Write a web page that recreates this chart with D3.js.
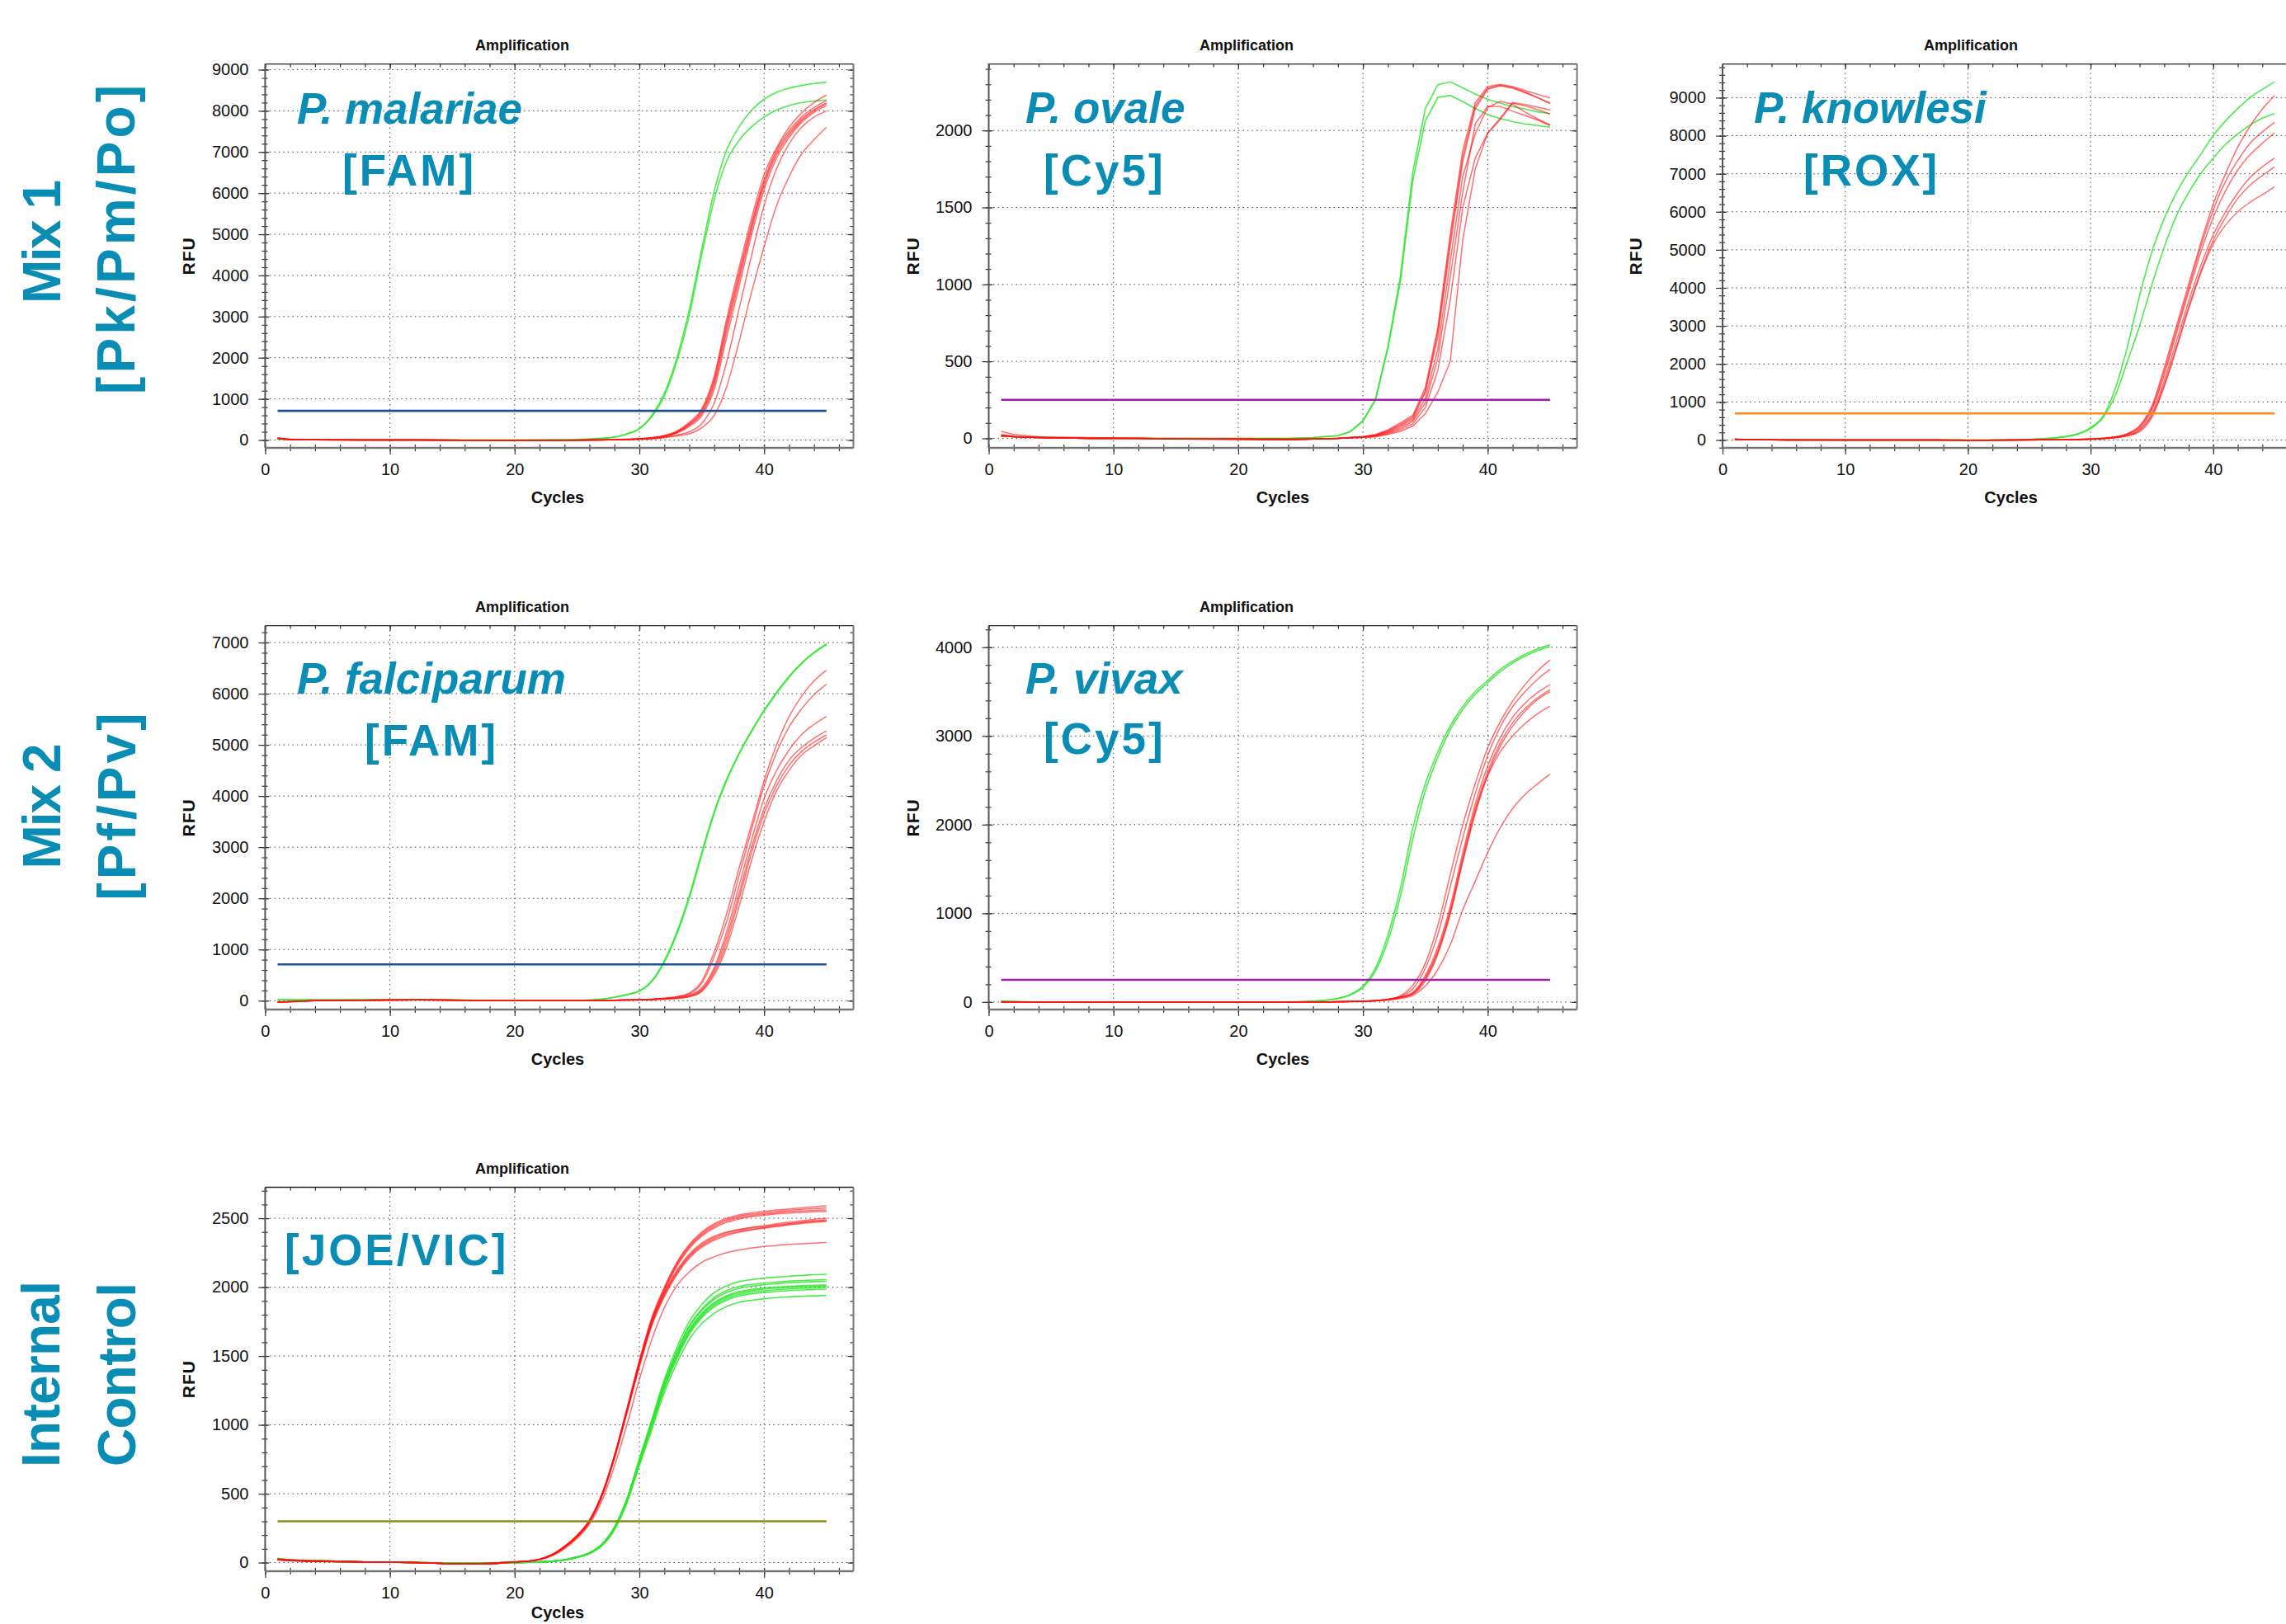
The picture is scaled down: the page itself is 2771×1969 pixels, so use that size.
<!DOCTYPE html>
<html>
<head>
<meta charset="utf-8">
<script src="https://cdn.jsdelivr.net/npm/d3@7"></script>
<style>
  html, body { margin: 0; padding: 0; background: #fff; }
  svg { display: block; }
</style>
</head>
<body>
<script>
// ---------------- DATA ----------------
const cyclesMain = [1,2,4,8,12,16,20,24,26,28,29,30,31,32,33,34,35,36,37,38,39,40,41,42,43,44,45];
const cyclesIC   = [1,2,4,8,12,16,18,20,21,22,23,24,25,26,27,28,29,30,31,32,33,34,35,36,37,38,39,40,41,42,43,44,45];
const xTickLabels = [0,10,20,30,40];

// Mix 1 – P. malariae [FAM]
const malariaeGreen = [
  [20,15,10,5,5,0,0,10,25, 70,150,280,600,1135,2000,3170,4640,6045,7050,7615,8016,8283,8450,8550,8617,8664,8697],
  [20,15,10,5,5,0,0,10,25, 70,145,267,568,1069,1904,3040,4509,5845,6780,7281,7615,7849,8016,8130,8197,8237,8263]
];
const malariaeRed = [
  [50,20,10,0,0,-5,-10,-5,0, 10,20,35,60,110,220,430,760,1560,2950,4200,5400,6450,7100,7600,7950,8200,8383],
  [40,15,5,0,0,-5,-5,-5,0, 10,20,30,55,100,200,400,720,1480,2850,4080,5280,6330,7050,7520,7850,8080,8250],
  [45,15,5,0,0,-5,-5,-5,0, 8,15,28,50,95,190,380,680,1420,2760,3980,5200,6260,6990,7460,7800,8030,8196],
  [35,10,5,0,0,-5,-5,-5,0, 8,15,25,45,90,180,360,640,1340,2650,3880,5120,6190,6930,7410,7760,8000,8170],
  [40,12,5,0,0,-5,-5,-5,0, 8,15,25,45,85,170,330,590,1240,2500,3740,4990,6080,6850,7350,7720,7960,8130],
  [45,15,5,0,0,-5,-5,-5,0, 5,10,20,35,65,120,200,400,900,1900,3200,4500,5700,6600,7200,7600,7850,7996],
  [50,15,5,0,0,-5,-5,-5,0, 5,10,18,30,55,100,150,300,600,1300,2400,3600,4700,5700,6400,6950,7300,7602]
];
const malariaeYTicks = [0,1000,2000,3000,4000,5000,6000,7000,8000,9000];

// Mix 1 – P. ovale [Cy5]
const ovaleGreen = [
  [15,10,5,0,0,0,0,0,5, 17,44,115,253,597,1053,1732,2143,2298,2316,2277,2237,2202,2178,2155,2139,2121,2110],
  [15,10,5,0,0,0,0,0,5, 17,44,112,248,585,1018,1678,2062,2214,2228,2187,2143,2103,2077,2057,2043,2032,2021]
];
const ovaleRed = [
  [45,25,10,5,0,-5,-5,-5,-5, 0,5,10,25,55,100,150,330,720,1330,1870,2180,2285,2300,2285,2260,2235,2211],
  [20,10,5,0,0,-5,-5,-5,-5, 0,5,10,20,50,90,140,310,690,1290,1830,2160,2275,2295,2280,2250,2215,2178],
  [15,10,5,0,0,-5,-5,-10,-5, 0,5,10,20,45,85,130,300,660,1250,1800,2140,2268,2290,2275,2245,2212,2175],
  [25,15,5,0,0,-5,-10,-10,-5, 0,5,8,18,40,75,120,260,580,1150,1700,1980,2150,2190,2170,2120,2075,2036],
  [20,10,5,0,0,-5,-5,-10,-5, 0,3,8,15,35,65,110,230,520,1050,1600,2044,2157,2157,2125,2098,2068,2032],
  [15,10,5,0,0,-5,-5,-10,-5, 0,3,6,12,30,55,95,200,440,900,1500,1821,1982,2080,2182,2169,2151,2134],
  [20,10,5,0,0,-5,-5,-10,-5, 0,3,5,10,25,45,80,160,300,500,1290,1750,1982,2071,2178,2160,2135,2107]
];
const ovaleYTicks = [0,500,1000,1500,2000];

// Mix 1 – P. knowlesi [ROX]
const knowlesiGreen = [
  [20,15,10,5,0,0,0,5,30, 98,170,329,618,1341,2450,3800,4950,5820,6500,7050,7520,8005,8388,8713,9002,9219,9414],
  [20,15,10,5,0,0,0,5,30, 90,160,300,582,1160,2063,3003,4087,5063,5894,6508,7014,7412,7773,8048,8280,8460,8583]
];
const knowlesiRed = [
  [20,10,5,0,0,0,-5,0,5, 10,18,30,50,85,170,380,900,1900,3000,4100,5200,6200,7000,7700,8250,8700,9060],
  [20,10,5,0,0,0,-5,0,5, 10,16,28,45,80,160,350,850,1800,2900,4000,5100,6050,6800,7350,7800,8100,8352],
  [20,10,5,0,0,0,-5,0,5, 10,15,26,42,75,150,320,800,1700,2800,3900,4950,5850,6550,7100,7500,7800,8077],
  [20,10,5,0,0,0,-5,0,5, 8,14,24,40,68,130,280,700,1550,2600,3650,4600,5400,6000,6500,6900,7180,7412],
  [20,10,5,0,0,0,-5,0,5, 8,13,22,37,62,120,250,650,1450,2450,3500,4450,5250,5850,6350,6700,6950,7181],
  [20,10,5,0,0,0,-5,0,5, 8,12,20,34,58,110,220,600,1400,2400,3450,4400,5150,5650,6000,6250,6450,6653]
];
const knowlesiYTicks = [0,1000,2000,3000,4000,5000,6000,7000,8000,9000];

// Mix 2 – P. falciparum [FAM]
const falciparumGreen = [
  [20,15,15,20,20,10,0,0,10, 70,120,195,390,780,1340,2050,2900,3700,4330,4840,5280,5680,6030,6340,6600,6810,6974],
  [25,15,15,20,20,10,0,0,10, 65,115,185,370,750,1300,2000,2850,3660,4300,4820,5260,5660,6010,6320,6585,6795,6960]
];
const falciparumRed = [
  [-30,-20,0,10,15,10,0,0,0, 10,15,20,30,50,80,150,380,950,1700,2600,3450,4300,5000,5550,5950,6250,6459],
  [-30,-20,0,10,15,10,0,0,0, 10,15,20,28,45,75,130,340,860,1550,2450,3350,4200,4850,5350,5700,5980,6183],
  [-25,-20,0,10,15,10,0,0,0, 10,15,18,25,40,60,110,250,650,1350,2250,3150,3950,4500,4900,5200,5400,5557],
  [-30,-15,0,10,15,10,0,0,0, 8,12,18,25,40,55,95,220,600,1250,2100,3000,3750,4300,4700,4950,5130,5274],
  [-30,-20,0,10,15,10,0,0,0, 8,12,15,22,35,50,85,200,550,1150,2000,2900,3650,4200,4600,4870,5050,5195],
  [-25,-20,0,10,15,10,0,0,0, 8,12,15,20,30,45,75,180,500,1050,1850,2750,3500,4100,4500,4800,4980,5142]
];
const falciparumYTicks = [0,1000,2000,3000,4000,5000,6000,7000];

// Mix 2 – P. vivax [Cy5]
const vivaxGreen = [
  [15,5,0,0,0,0,0,0,10, 41,87,180,382,755,1282,1964,2461,2818,3113,3330,3500,3625,3749,3842,3920,3982,4028],
  [10,5,0,0,0,0,0,0,10, 38,80,165,350,690,1190,1840,2380,2760,3070,3295,3470,3600,3725,3822,3900,3962,4006]
];
const vivaxRed = [
  [0,0,0,0,0,0,0,0,0, 3,5,10,16,32,70,190,437,863,1437,1996,2461,2865,3160,3392,3578,3733,3857],
  [0,0,0,0,0,0,0,0,0, 3,5,10,16,30,62,150,380,760,1300,1850,2350,2780,3100,3330,3500,3640,3749],
  [0,0,0,0,0,0,0,0,0, 3,5,10,15,28,56,110,300,620,1080,1680,2230,2660,2980,3210,3370,3490,3578],
  [0,0,0,0,0,0,0,0,0, 3,5,10,15,28,54,100,280,580,1040,1630,2180,2600,2920,3150,3310,3430,3522],
  [0,0,0,0,0,0,0,0,0, 3,5,9,14,26,50,95,260,560,1010,1600,2150,2550,2820,3000,3140,3250,3336],
  [0,0,0,0,0,0,0,0,0, 3,5,9,14,26,48,90,240,540,990,1580,2120,2560,2880,3110,3280,3410,3500],
  [0,0,0,0,0,0,0,0,0, 3,4,8,12,22,40,75,180,366,645,1040,1360,1685,1964,2182,2340,2460,2569]
];
const vivaxYTicks = [0,1000,2000,3000,4000];

// Internal control [JOE/VIC]
const icGreen = [
  [30,20,15,5,0,-5,-5, 0,2,5,10,20,40,72,135,260,465,755,1040,1330,1560,1750,1875,1960,2010,2040,2055,2065,2073,2080,2085,2090,2093],
  [30,20,15,5,0,-5,-5, 0,2,5,10,20,40,70,132,255,458,745,1025,1310,1535,1720,1840,1925,1975,2005,2020,2030,2038,2044,2048,2051,2054],
  [25,20,15,5,0,-5,-5, 0,2,5,10,20,40,70,130,252,455,740,1018,1300,1525,1710,1830,1912,1962,1992,2007,2017,2026,2032,2037,2040,2042],
  [25,20,10,5,0,-5,-5, 0,2,5,10,20,40,70,130,250,450,733,1005,1287,1508,1690,1808,1888,1938,1968,1983,1993,2001,2006,2010,2013,2015],
  [30,20,10,5,0,-5,-5, 0,2,5,10,20,40,70,130,250,450,730,1000,1280,1500,1680,1800,1880,1930,1960,1975,1985,1993,1998,2002,2005,2008],
  [25,20,10,5,0,-5,-5, 0,2,5,10,20,38,68,128,246,445,725,995,1272,1490,1670,1790,1868,1918,1948,1963,1973,1981,1987,1991,1994,1997],
  [25,15,10,5,0,-5,-5, 0,2,5,10,19,38,67,126,244,442,720,988,1265,1482,1660,1778,1856,1906,1936,1951,1961,1969,1975,1979,1982,1985],
  [25,15,10,5,0,-5,-5, 0,2,5,10,18,36,65,122,238,432,705,965,1235,1447,1620,1735,1810,1860,1890,1905,1916,1924,1930,1934,1937,1940]
];
const icRed = [
  [25,20,15,5,0,-10,-5, 5,10,25,60,120,200,310,500,780,1120,1470,1780,2000,2180,2310,2400,2460,2500,2525,2540,2550,2560,2568,2576,2583,2591],
  [20,15,10,5,0,-10,-5, 5,10,25,58,118,195,305,495,770,1110,1460,1770,1990,2170,2300,2390,2450,2490,2515,2530,2540,2550,2558,2565,2570,2575],
  [25,15,10,5,0,-10,-10, 5,10,24,57,115,190,300,490,765,1100,1450,1760,1980,2160,2290,2380,2440,2480,2505,2520,2530,2540,2548,2553,2557,2560],
  [20,15,10,5,0,-10,-10, 5,10,23,55,112,185,295,485,760,1090,1440,1750,1970,2150,2280,2370,2430,2470,2495,2512,2522,2532,2538,2543,2547,2550],
  [25,20,10,5,0,-10,-5, 5,10,24,56,115,195,305,495,775,1110,1450,1750,1960,2120,2240,2320,2370,2400,2420,2435,2445,2460,2472,2482,2492,2500],
  [20,15,10,5,0,-10,-5, 5,10,23,55,113,192,300,490,768,1100,1440,1740,1950,2110,2230,2310,2360,2395,2415,2430,2440,2452,2463,2473,2482,2489],
  [25,15,10,5,0,-10,-10, 5,10,22,54,110,188,298,485,762,1095,1430,1730,1940,2100,2220,2300,2350,2385,2405,2420,2432,2445,2457,2467,2476,2483],
  [20,15,10,5,0,-10,-10, 5,10,22,53,108,185,292,480,755,1085,1420,1720,1930,2090,2210,2290,2340,2375,2398,2415,2428,2440,2452,2462,2470,2477],
  [25,15,10,5,0,-10,-5, 5,10,20,50,100,175,280,450,700,1000,1330,1620,1850,2010,2110,2180,2220,2250,2270,2285,2295,2303,2310,2315,2320,2324]
];
const icYTicks = [0,500,1000,1500,2000,2500];

// threshold values (RFU) per panel: malariae, ovale, knowlesi, falciparum, vivax, IC
const thresholdValues = [710, 250, 700, 710, 250, 300];
const thresholdSpan = [1, 45];

// ---------------- LAYOUT ----------------
const W = 2771, H = 1969;
const PLOT_H = 465.4;
const TEAL = '#0a8db4';
const SANS = "'Liberation Sans', Arial, Helvetica, sans-serif";

const panels = [
  { left:321.4,  top:77.6,   width:713.1, xMax:47.16, yMin:-190, yMax:9138, yTicks:malariaeYTicks,  minor:200,
    thr:thresholdValues[0], thrColor:'#1d4f91', green:malariaeGreen,  red:malariaeRed,  cyc:cyclesMain,
    titleX:633,  cyclesX:676,    cyclesY:610, rfuX:235.7, curve:d3.curveMonotoneX,
    species:{t:'P. malariae',   x:360,    y:150}, chan:{t:'[FAM]',     x:415,  y:225} },
  { left:1198.5, top:77.6,   width:713.1, xMax:47.16, yMin:-62,  yMax:2432, yTicks:ovaleYTicks,     minor:100,
    thr:thresholdValues[1], thrColor:'#a020a0', green:ovaleGreen,     red:ovaleRed,     cyc:cyclesMain,
    titleX:1511, cyclesX:1555,   cyclesY:610, rfuX:1114.3, curve:d3.curveLinear,
    species:{t:'P. ovale',      x:1243,   y:149}, chan:{t:'[Cy5]',     x:1265, y:225} },
  { left:2088,   top:77.6,   width:701.3, xMax:47.16, yMin:-206, yMax:9885, yTicks:knowlesiYTicks,  minor:200,
    thr:thresholdValues[2], thrColor:'#ff8c1a', green:knowlesiGreen,  red:knowlesiRed,  cyc:cyclesMain,
    titleX:2389, cyclesX:2437.6, cyclesY:610, rfuX:1990, curve:d3.curveMonotoneX,
    species:{t:'P. knowlesi',   x:2126,   y:149}, chan:{t:'[ROX]',     x:2186, y:225} },
  { left:321.4,  top:758.6,  width:713.1, xMax:47.16, yMin:-173, yMax:7329, yTicks:falciparumYTicks, minor:200,
    thr:thresholdValues[3], thrColor:'#1d4f91', green:falciparumGreen, red:falciparumRed, cyc:cyclesMain,
    titleX:633,  cyclesX:676,    cyclesY:1291, rfuX:235.7, curve:d3.curveMonotoneX,
    species:{t:'P. falciparum', x:360,    y:841}, chan:{t:'[FAM]',     x:442,  y:916} },
  { left:1198.5, top:758.6,  width:713.1, xMax:47.16, yMin:-85,  yMax:4243, yTicks:vivaxYTicks,     minor:200,
    thr:thresholdValues[4], thrColor:'#a020a0', green:vivaxGreen,     red:vivaxRed,     cyc:cyclesMain,
    titleX:1511, cyclesX:1555,   cyclesY:1291, rfuX:1114.3, curve:d3.curveMonotoneX,
    species:{t:'P. vivax',      x:1243,   y:841}, chan:{t:'[Cy5]',     x:1265, y:914} },
  { left:321.4,  top:1439.5, width:713.1, xMax:47.16, yMin:-62,  yMax:2725, yTicks:icYTicks,        minor:100,
    thr:thresholdValues[5], thrColor:'#8c8c1c', green:icGreen,        red:icRed,        cyc:cyclesIC,
    titleX:633,  cyclesX:676,    cyclesY:1962, rfuX:235.7, curve:d3.curveMonotoneX,
    species:null, chan:{t:'[JOE/VIC]', x:345, y:1533.5} }
];

const rowLabels = [
  { t:'Mix 1',       x:72.7,  y:293,    len:150 },
  { t:'[Pk/Pm/Po]',  x:163.3, y:290.5,  len:375 },
  { t:'Mix 2',       x:73.2,  y:977.5,  len:152 },
  { t:'[Pf/Pv]',     x:163.5, y:978,    len:227 },
  { t:'Internal',    x:72.3,  y:1666,   len:226 },
  { t:'Control',     x:164,   y:1666.5, len:223 }
];

// ---------------- DRAW ----------------
const svg = d3.select('body').append('svg')
  .attr('width', W).attr('height', H)
  .attr('viewBox', `0 0 ${W} ${H}`);
svg.append('rect').attr('width', W).attr('height', H).attr('fill', '#fff');

function styleAxis(sel) {
  sel.attr('font-family', SANS).attr('font-size', 20);
  sel.select('.domain').remove();
  sel.selectAll('.tick line').attr('stroke', '#333').attr('stroke-width', 1.2);
  sel.selectAll('.tick text').attr('fill', '#111');
}

function drawPanel(p) {
  const g = svg.append('g');
  const bottom = p.top + PLOT_H, right = p.left + p.width;
  const x = d3.scaleLinear().domain([0, p.xMax]).range([p.left, right]);
  const y = d3.scaleLinear().domain([p.yMin, p.yMax]).range([bottom, p.top]);

  g.append('rect').attr('x', p.left).attr('y', p.top).attr('width', p.width).attr('height', PLOT_H).attr('fill', '#fff');

  // dotted grid
  g.append('g').selectAll('line').data([10,20,30,40]).join('line')
    .attr('x1', d => x(d)).attr('x2', d => x(d)).attr('y1', p.top).attr('y2', bottom)
    .attr('stroke', '#444').attr('stroke-width', 1).attr('stroke-dasharray', '1.5,4');
  g.append('g').selectAll('line').data(p.yTicks).join('line')
    .attr('x1', p.left).attr('x2', right).attr('y1', d => y(d)).attr('y2', d => y(d))
    .attr('stroke', '#444').attr('stroke-width', 1).attr('stroke-dasharray', '1.5,4');

  // ticks
  const minorX = d3.range(0, p.xMax, 2);
  const minorY = d3.range(Math.ceil(p.yMin / p.minor) * p.minor, p.yMax, p.minor);
  const tb = `translate(0,${bottom})`, tt = `translate(0,${p.top})`;
  const tl = `translate(${p.left},0)`, tr = `translate(${right},0)`;
  g.append('g').attr('transform', tb).call(d3.axisBottom(x).tickValues(minorX).tickSize(4).tickFormat('')).call(styleAxis);
  g.append('g').attr('transform', tb).call(d3.axisTop(x).tickValues(minorX).tickSize(4).tickFormat('')).call(styleAxis);
  g.append('g').attr('transform', tb).call(d3.axisBottom(x).tickValues(xTickLabels).tickSize(8).tickPadding(11).tickFormat(d3.format('d'))).call(styleAxis);
  g.append('g').attr('transform', tt).call(d3.axisBottom(x).tickValues(minorX).tickSize(4).tickFormat('')).call(styleAxis);
  g.append('g').attr('transform', tt).call(d3.axisBottom(x).tickValues(xTickLabels).tickSize(6).tickFormat('')).call(styleAxis);

  g.append('g').attr('transform', tl).call(d3.axisLeft(y).tickValues(minorY).tickSize(4).tickFormat('')).call(styleAxis);
  g.append('g').attr('transform', tl).call(d3.axisRight(y).tickValues(minorY).tickSize(3).tickFormat('')).call(styleAxis);
  g.append('g').attr('transform', tl).call(d3.axisRight(y).tickValues(p.yTicks).tickSize(5).tickFormat('')).call(styleAxis);
  g.append('g').attr('transform', tl).call(d3.axisLeft(y).tickValues(p.yTicks).tickSize(8).tickPadding(12).tickFormat(d3.format('d'))).call(styleAxis);

  g.append('g').attr('transform', tr).call(d3.axisLeft(y).tickValues(minorY).tickSize(4).tickFormat('')).call(styleAxis);
  g.append('g').attr('transform', tr).call(d3.axisLeft(y).tickValues(p.yTicks).tickSize(7).tickFormat('')).call(styleAxis);

  // frame
  g.append('line').attr('x1', p.left).attr('x2', right).attr('y1', p.top).attr('y2', p.top).attr('stroke', '#222').attr('stroke-width', 1.4);
  g.append('line').attr('x1', right).attr('x2', right).attr('y1', p.top).attr('y2', bottom).attr('stroke', '#777').attr('stroke-width', 2);
  g.append('line').attr('x1', p.left).attr('x2', p.left).attr('y1', p.top).attr('y2', bottom).attr('stroke', '#555').attr('stroke-width', 2);
  g.append('line').attr('x1', p.left).attr('x2', right).attr('y1', bottom).attr('y2', bottom).attr('stroke', '#777').attr('stroke-width', 2.5);

  // curves
  const line = d3.line().x((d, i) => x(p.cyc[i])).y(d => y(d)).curve(p.curve);
  g.append('g').selectAll('path').data(p.green).join('path')
    .attr('d', line).attr('fill', 'none').attr('stroke', '#2fe62f').attr('stroke-width', 1.6).attr('stroke-opacity', 0.85);
  g.append('g').selectAll('path').data(p.red).join('path')
    .attr('d', line).attr('fill', 'none').attr('stroke', '#ff1010').attr('stroke-width', 1.5).attr('stroke-opacity', 0.6);

  // threshold
  g.append('line')
    .attr('x1', x(thresholdSpan[0])).attr('x2', x(thresholdSpan[1]))
    .attr('y1', y(p.thr)).attr('y2', y(p.thr))
    .attr('stroke', p.thrColor).attr('stroke-width', 2.6);

  // texts
  g.append('text').attr('x', p.titleX).attr('y', p.top - 17).attr('text-anchor', 'middle')
    .attr('font-family', SANS).attr('font-weight', 'bold').attr('font-size', 18).attr('fill', '#111')
    .text('Amplification');
  g.append('text').attr('x', p.cyclesX).attr('y', p.cyclesY).attr('text-anchor', 'middle')
    .attr('font-family', SANS).attr('font-weight', 'bold').attr('font-size', 20).attr('fill', '#111')
    .text('Cycles');
  g.append('text').attr('transform', `translate(${p.rfuX},${p.top + PLOT_H / 2}) rotate(-90)`)
    .attr('text-anchor', 'middle').attr('font-family', SANS).attr('font-weight', 'bold')
    .attr('font-size', 21).attr('letter-spacing', 1).attr('fill', '#111').text('RFU');

  if (p.species) {
    g.append('text').attr('x', p.species.x).attr('y', p.species.y)
      .attr('font-family', SANS).attr('font-weight', 'bold').attr('font-style', 'italic')
      .attr('font-size', 53).attr('fill', TEAL).text(p.species.t);
  }
  g.append('text').attr('x', p.chan.x).attr('y', p.chan.y)
    .attr('font-family', SANS).attr('font-weight', 'bold').attr('letter-spacing', 3)
    .attr('font-size', 53).attr('fill', TEAL).text(p.chan.t);
}

panels.forEach(drawPanel);

// row labels (rotated)
svg.append('g').selectAll('text').data(rowLabels).join('text')
  .attr('transform', d => `translate(${d.x},${d.y}) rotate(-90)`)
  .attr('text-anchor', 'middle')
  .attr('font-family', SANS).attr('font-weight', 'bold').attr('font-size', 64)
  .attr('fill', TEAL)
  .attr('textLength', d => d.len).attr('lengthAdjust', 'spacing')
  .text(d => d.t);
</script>
</body>
</html>
